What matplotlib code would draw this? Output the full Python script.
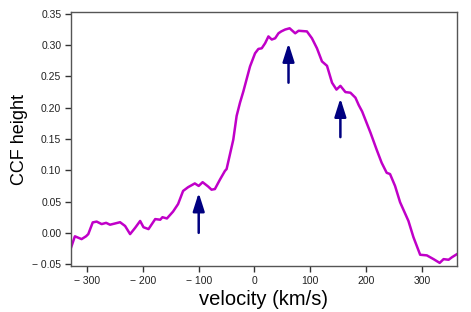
import matplotlib.pyplot as plt

# CCF curve
velocity = [-329, -322, -310, -302, -298, -290, -283, -274, -266, -259, -250, -241,
            -232, -223, -214, -205, -199, -190, -178, -169, -165, -157, -146, -137,
            -128, -119, -107, -100, -93, -83, -77, -71, -62, -53, -50, -38, -32,
            -26, -20, -8, 1, 7, 13, 19, 25, 31, 37, 43, 48, 55, 63, 73, 79, 94,
            103, 112, 121, 130, 139, 147, 154, 163, 172, 181, 187, 193, 208, 219,
            228, 237, 243, 252, 261, 276, 285, 297, 309, 321, 332, 339, 348, 354, 363]
ccf = [-0.024, -0.0055, -0.010, -0.0055, -0.002, 0.0167, 0.018, 0.014, 0.016,
       0.013, 0.015, 0.017, 0.011, -0.002, 0.008, 0.019, 0.009, 0.006, 0.022,
       0.021, 0.025, 0.023, 0.034, 0.046, 0.067, 0.073, 0.079, 0.075, 0.081,
       0.074, 0.069, 0.070, 0.085, 0.099, 0.102, 0.149, 0.187, 0.208, 0.226,
       0.266, 0.287, 0.294, 0.295, 0.303, 0.314, 0.309, 0.311, 0.319, 0.322,
       0.325, 0.327, 0.319, 0.323, 0.322, 0.311, 0.295, 0.274, 0.267, 0.240,
       0.229, 0.235, 0.225, 0.224, 0.216, 0.204, 0.194, 0.160, 0.133, 0.112,
       0.096, 0.094, 0.075, 0.049, 0.019, -0.007, -0.035, -0.036, -0.042,
       -0.048, -0.042, -0.043, -0.039, -0.034]

# arrows marking components: x, tail, tip
arrow_x = [-100, 61, 154]
arrow_y0 = [0.0, 0.24, 0.153]
arrow_y1 = [0.064, 0.303, 0.215]

xticks = [-300, -200, -100, 0, 100, 200, 300]
yticks = [-0.05, 0.0, 0.05, 0.10, 0.15, 0.20, 0.25, 0.30, 0.35]

plt.rcParams['font.family'] = ['Liberation Sans', 'DejaVu Sans']

fig = plt.figure(figsize=(4.71, 3.12), dpi=100)
ax = fig.add_axes([0.1507, 0.1474, 0.8195, 0.8141])
ax.plot(velocity, ccf, color='#c000c8', lw=1.8)

for x, y0, y1 in zip(arrow_x, arrow_y0, arrow_y1):
    ax.annotate('', xy=(x, y1), xytext=(x, y0),
                arrowprops=dict(arrowstyle='-|>,head_width=0.35,head_length=1.1',
                                color='#000080', lw=1.8, shrinkA=0, shrinkB=0))

ax.set_xlim(-329, 363)
ax.set_ylim(-0.053, 0.353)
ax.set_xticks(xticks)
ax.set_xticklabels(['\u2212' + ' ' + str(abs(t)) if t < 0 else str(t) for t in xticks])
ax.set_yticks(yticks)
ax.set_yticklabels(['\u2212 %.2f' % abs(t) if t < 0 else '%.2f' % t for t in yticks])
ax.tick_params(axis='both', labelsize=7.5, length=4, width=1, colors='#333333',
               labelcolor='#222222', pad=3)
for s in ax.spines.values():
    s.set_color('#555555')
    s.set_linewidth(1)
ax.set_xlabel('velocity (km/s)', fontsize=14.5, labelpad=3)
ax.set_ylabel('CCF height', fontsize=13, labelpad=3)

fig.savefig('out.png', dpi=100)
